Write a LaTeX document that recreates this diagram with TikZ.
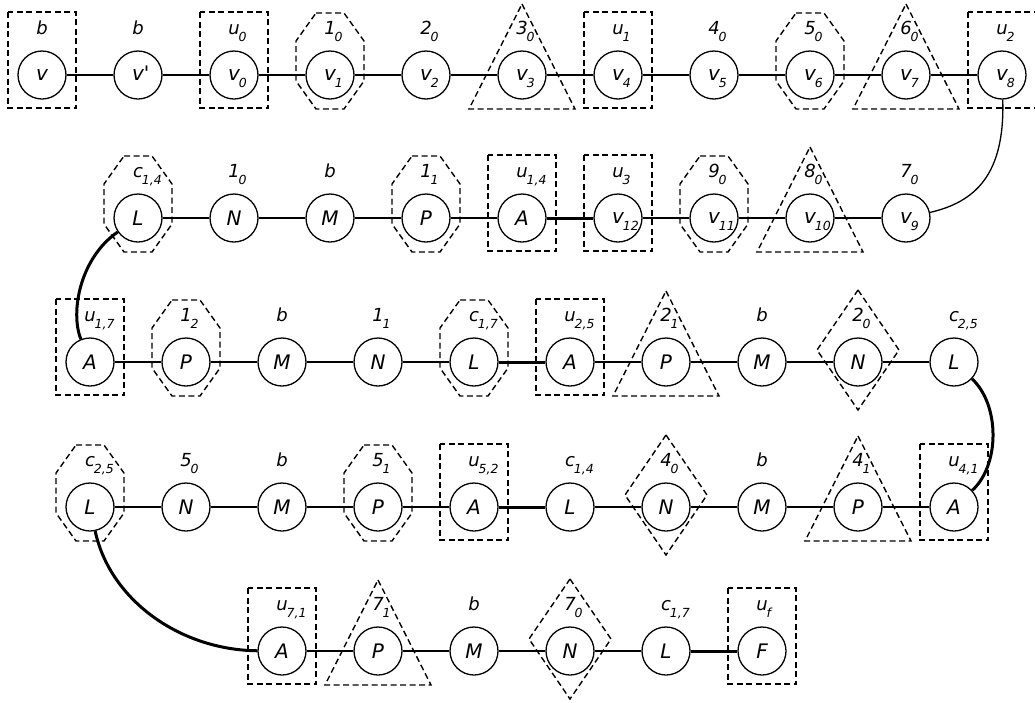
\documentclass[tikz,border=0pt]{standalone}
\usepackage{fontspec}
\setmainfont{DejaVu Sans}
\newcommand\sbx[2]{#1\smash{\rlap{\kern-1pt\raisebox{-7pt}{\fontsize{12.5}{12.5}\selectfont #2}}}}
\tikzset{
  vtx/.style={circle, draw, fill=white, line width=1.3pt, minimum size=48pt, inner sep=0pt, font=\fontsize{20}{20}\selectfont\itshape},
  lab/.style={anchor=base, inner sep=0pt, font=\fontsize{18}{18}\selectfont\itshape},
  enc/.style={draw, dash pattern=on 6pt off 3.5pt, line width=1.4pt},
  edge/.style={line width=1.3pt},
  heavy/.style={line width=3pt},
}
\newcommand\V[5]{\node[vtx] (#1) at (#2,#3) {#4}; \node[lab] (#1l) at (#2,#3-41) {#5};}
\newcommand\ERect[1]{\draw[enc,shift={(#1)}] (-34,-63) rectangle (34,33);}
\newcommand\EOct[1]{\draw[enc,shift={(#1)}] (-14,-62) -- (14,-62) -- (34,-34) -- (34,6) -- (14,34) -- (-14,34) -- (-34,6) -- (-34,-34) -- cycle;}
\newcommand\ETri[1]{\draw[enc,shift={(#1)}] (0,-71) -- (53,34) -- (-53,34) -- cycle;}
\newcommand\EDia[1]{\draw[enc,shift={(#1)}] (0,-72) -- (41,-12) -- (0,48) -- (-41,-12) -- cycle;}
\begin{document}
\begin{tikzpicture}[x=1pt,y=-1pt]
\useasboundingbox (0,0) rectangle (1035,702);
% row 1
\V{a1}{42}{75}{v}{b}
\V{a2}{138}{75}{v\smash{\rlap{\textquotesingle}}}{b}
\V{a3}{234}{75}{\sbx{v}{0}}{\sbx{u}{0}}
\V{a4}{330}{75}{\sbx{v}{1}}{\sbx{1}{0}}
\V{a5}{426}{75}{\sbx{v}{2}}{\sbx{2}{0}}
\V{a6}{522}{75}{\sbx{v}{3}}{\sbx{3}{0}}
\V{a7}{618}{75}{\sbx{v}{4}}{\sbx{u}{1}}
\V{a8}{714}{75}{\sbx{v}{5}}{\sbx{4}{0}}
\V{a9}{810}{75}{\sbx{v}{6}}{\sbx{5}{0}}
\V{a10}{906}{75}{\sbx{v}{7}}{\sbx{6}{0}}
\V{a11}{1002}{75}{\sbx{v}{8}}{\sbx{u}{2}}
% row 2
\V{b1}{138}{218}{L}{\sbx{c}{1,4}}
\V{b2}{234}{218}{N}{\sbx{1}{0}}
\V{b3}{330}{218}{M}{b}
\V{b4}{426}{218}{P}{\sbx{1}{1}}
\V{b5}{522}{218}{A}{\sbx{u}{1,4}}
\V{b6}{618}{218}{\sbx{v}{12}}{\sbx{u}{3}}
\V{b7}{714}{218}{\sbx{v}{11}}{\sbx{9}{0}}
\V{b8}{810}{218}{\sbx{v}{10}}{\sbx{8}{0}}
\V{b9}{906}{218}{\sbx{v}{9}}{\sbx{7}{0}}
% row 3
\V{c1}{90}{362}{A}{\sbx{u}{1,7}}
\V{c2}{186}{362}{P}{\sbx{1}{2}}
\V{c3}{282}{362}{M}{b}
\V{c4}{378}{362}{N}{\sbx{1}{1}}
\V{c5}{474}{362}{L}{\sbx{c}{1,7}}
\V{c6}{570}{362}{A}{\sbx{u}{2,5}}
\V{c7}{666}{362}{P}{\sbx{2}{1}}
\V{c8}{762}{362}{M}{b}
\V{c9}{858}{362}{N}{\sbx{2}{0}}
\V{c10}{954}{362}{L}{\sbx{c}{2,5}}
% row 4
\V{d1}{90}{507}{L}{\sbx{c}{2,5}}
\V{d2}{186}{507}{N}{\sbx{5}{0}}
\V{d3}{282}{507}{M}{b}
\V{d4}{378}{507}{P}{\sbx{5}{1}}
\V{d5}{474}{507}{A}{\sbx{u}{5,2}}
\V{d6}{570}{507}{L}{\sbx{c}{1,4}}
\V{d7}{666}{507}{N}{\sbx{4}{0}}
\V{d8}{762}{507}{M}{b}
\V{d9}{858}{507}{P}{\sbx{4}{1}}
\V{d10}{954}{507}{A}{\sbx{u}{4,1}}
% row 5
\V{e1}{282}{651}{A}{\sbx{u}{7,1}}
\V{e2}{378}{651}{P}{\sbx{7}{1}}
\V{e3}{474}{651}{M}{b}
\V{e4}{570}{651}{N}{\sbx{7}{0}}
\V{e5}{666}{651}{L}{\sbx{c}{1,7}}
\V{e6}{762}{651}{F}{\sbx{u}{f}}
% enclosures
\ERect{a1}\ERect{a3}\EOct{a4}\ETri{a6}\ERect{a7}\EOct{a9}\ETri{a10}\ERect{a11}
\EOct{b1}\EOct{b4}\ERect{b5}\ERect{b6}\EOct{b7}\ETri{b8}
\ERect{c1}\EOct{c2}\EOct{c5}\ERect{c6}\ETri{c7}\EDia{c9}
\EOct{d1}\EOct{d4}\ERect{d5}\EDia{d7}\ETri{d9}\ERect{d10}
\ERect{e1}\ETri{e2}\EDia{e4}\ERect{e6}
% edges
\draw[edge] (a1)--(a2) (a2)--(a3) (a3)--(a4) (a4)--(a5) (a5)--(a6) (a6)--(a7) (a7)--(a8) (a8)--(a9) (a9)--(a10) (a10)--(a11);
\draw[edge] (b1)--(b2) (b2)--(b3) (b3)--(b4) (b4)--(b5) (b6)--(b7) (b7)--(b8) (b8)--(b9);
\draw[heavy] (b5)--(b6);
\draw[edge] (c1)--(c2) (c2)--(c3) (c3)--(c4) (c4)--(c5) (c6)--(c7) (c7)--(c8) (c8)--(c9) (c9)--(c10);
\draw[heavy] (c5)--(c6);
\draw[edge] (d1)--(d2) (d2)--(d3) (d3)--(d4) (d4)--(d5) (d6)--(d7) (d7)--(d8) (d8)--(d9) (d9)--(d10);
\draw[heavy] (d5)--(d6);
\draw[edge] (e1)--(e2) (e2)--(e3) (e3)--(e4) (e4)--(e5);
\draw[heavy] (e5)--(e6);
% curves
\draw[edge] (a11) .. controls (1005,175) and (975,202) .. (b9);
\draw[heavy] (b1) .. controls (80,258) and (70,312) .. (c1);
\draw[heavy] (c10) .. controls (1000,405) and (1000,465) .. (d10);
\draw[heavy] (d1) .. controls (110,600) and (180,650) .. (e1);
\end{tikzpicture}
\end{document}
